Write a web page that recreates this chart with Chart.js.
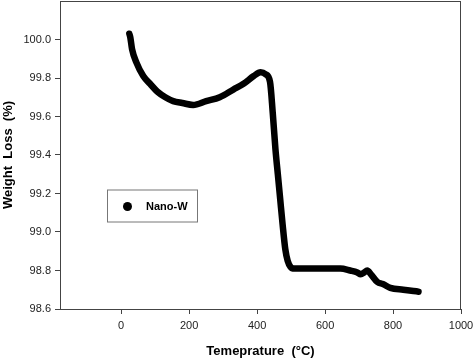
<!DOCTYPE html>
<html>
<head>
<meta charset="utf-8">
<script src="https://cdn.jsdelivr.net/npm/chart.js@4"></script>
<style>
  html, body { margin: 0; padding: 0; background: #fff; }
  #wrap { width: 473px; height: 363px; }
</style>
</head>
<body>
<div id="wrap"><canvas id="tga"></canvas></div>
<script>
// TGA curve for Nano-W
const temps = [24, 27, 32, 45, 65, 85, 106, 130, 153, 180, 212, 250, 290, 330, 360, 390, 410, 425, 438, 446,
  454, 461, 468, 475, 483, 490, 498, 510, 530, 560, 600, 645, 674, 695, 705, 715, 724, 735, 754, 770, 792, 830, 875];
const weights = [100.03, 100.01, 99.95, 99.88, 99.81, 99.77, 99.73, 99.70, 99.68, 99.67, 99.66, 99.68, 99.70, 99.74, 99.77, 99.81, 99.83, 99.82, 99.78, 99.62,
  99.43, 99.30, 99.17, 99.04, 98.91, 98.85, 98.82, 98.81, 98.81, 98.81, 98.81, 98.81, 98.80, 98.79, 98.78, 98.79, 98.80, 98.78, 98.74, 98.73, 98.71, 98.70, 98.69];
const xTicks = [0, 200, 400, 600, 800, 1000];
const yTicks = [98.6, 98.8, 99.0, 99.2, 99.4, 99.6, 99.8, 100.0];
const seriesName = 'Nano-W';

const FONT = "'Liberation Sans', Arial, sans-serif";
const axisColor = '#444';

// frame around the plot + legend box inside it
const framePlugin = {
  id: 'frame',
  afterDraw(chart) {
    const { ctx, chartArea: a } = chart;
    ctx.save();
    ctx.strokeStyle = axisColor;
    ctx.lineWidth = 1;
    ctx.strokeRect(a.left + 0.5, a.top + 0.5, a.right - a.left - 1, a.bottom - a.top);

    // legend
    const bx = a.left + 47, by = a.top + 188.5;
    ctx.strokeStyle = '#777';
    ctx.strokeRect(bx + 0.5, by + 0.5, 90, 32);
    ctx.fillStyle = '#000';
    ctx.beginPath();
    ctx.arc(bx + 20.5, by + 17, 4.5, 0, Math.PI * 2);
    ctx.fill();
    ctx.font = 'bold 11px ' + FONT;
    ctx.textBaseline = 'middle';
    ctx.fillText(chart.data.datasets[0].label, bx + 39, by + 17);
    ctx.restore();
  }
};

new Chart(document.getElementById('tga'), {
  type: 'line',
  data: {
    datasets: [{
      label: seriesName,
      data: temps.map((t, i) => ({ x: t, y: weights[i] })),
      borderColor: '#000',
      borderWidth: 6.5,
      borderCapStyle: 'round',
      borderJoinStyle: 'round',
      pointRadius: 0,
      cubicInterpolationMode: 'monotone',
      fill: false
    }]
  },
  options: {
    responsive: true,
    maintainAspectRatio: false,
    animation: false,
    layout: { padding: { top: 1, right: 12, left: 0, bottom: 0 } },
    plugins: { legend: { display: false }, tooltip: { enabled: false } },
    scales: {
      x: {
        type: 'linear',
        min: -180,
        max: 1000,
        afterBuildTicks: s => { s.ticks = xTicks.map(v => ({ value: v })); },
        afterFit: s => { s.height = 54; s.paddingLeft = 0; s.paddingRight = 0; },
        grid: { drawOnChartArea: false, drawTicks: true, tickLength: 5, color: axisColor },
        border: { color: axisColor },
        ticks: { color: '#222', padding: 5, font: { family: FONT, size: 11 }, maxRotation: 0, callback: v => String(v) },
        title: {
          display: true,
          text: 'Temeprature  (\u00B0C)',
          color: '#000',
          font: { family: FONT, size: 13, weight: 'bold' },
          padding: { top: 4, bottom: 4 }
        }
      },
      y: {
        type: 'linear',
        min: 98.6,
        max: 100.2,
        afterBuildTicks: s => { s.ticks = yTicks.map(v => ({ value: v })); },
        afterFit: s => { s.width = 60; s.paddingTop = 0; s.paddingBottom = 0; },
        grid: { drawOnChartArea: false, drawTicks: true, tickLength: 5, color: axisColor },
        border: { color: axisColor },
        ticks: { color: '#222', padding: 4, font: { family: FONT, size: 11 }, callback: v => v.toFixed(1) },
        title: {
          display: true,
          text: 'Weight  Loss  (%)',
          color: '#000',
          font: { family: FONT, size: 13, weight: 'bold' },
          padding: { top: 1, bottom: 0 }
        }
      }
    }
  },
  plugins: [framePlugin]
});
</script>
</body>
</html>
